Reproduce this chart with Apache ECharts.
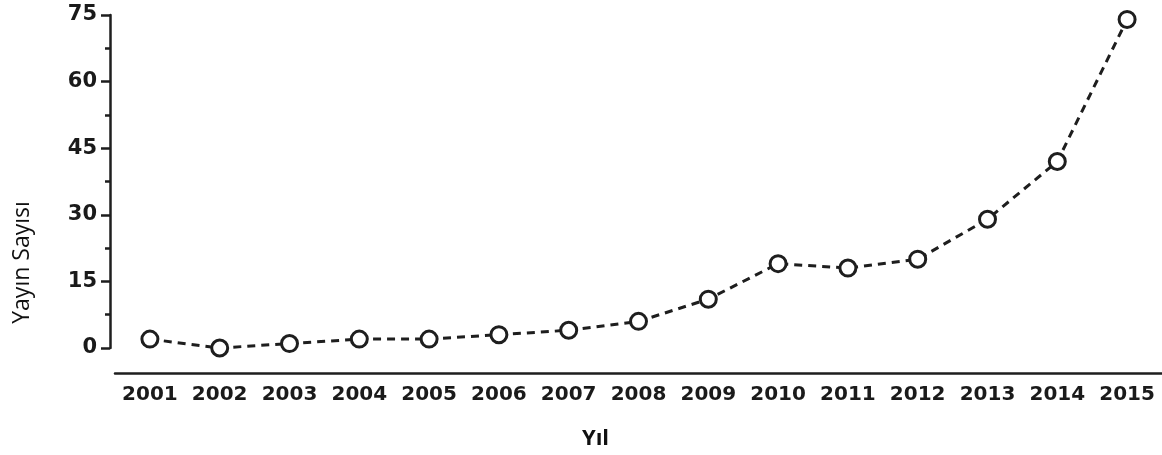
<!DOCTYPE html>
<html>
<head>
<meta charset="utf-8">
<script src="https://cdn.jsdelivr.net/npm/echarts@6/dist/echarts.min.js"></script>
<style>html,body{margin:0;padding:0;background:#fff}#c{width:1162px;height:455px}</style>
</head>
<body>
<div id="c"></div>
<script>
const years = ['2001','2002','2003','2004','2005','2006','2007','2008','2009','2010','2011','2012','2013','2014','2015'];
const publications = [2, 0, 1, 2, 2, 3, 4, 6, 11, 19, 18, 20, 29, 42, 74];
const yTicks = { min: 0, max: 75, interval: 15 };
const xTitle = 'Yıl';
const yTitle = 'Yayın Sayısı';

const ink = '#1e1e1e';
const chart = echarts.init(document.getElementById('c'), null, { renderer: 'canvas' });
chart.setOption({
  animation: false,
  backgroundColor: '#fff',
  grid: { left: 115, right: 0, top: 15, bottom: 107, containLabel: false },
  xAxis: {
    type: 'category',
    data: years,
    boundaryGap: true,
    offset: 25,
    axisLine: { onZero: false, lineStyle: { color: ink, width: 2.5 } },
    axisTick: { alignWithLabel: true, interval: 0, length: 8, lineStyle: { color: ink, width: 2.5 } },
    axisLabel: { interval: 0, hideOverlap: false, margin: 12, color: '#1a1a1a', fontFamily: 'DejaVu Sans', fontWeight: 'bold', fontSize: 20 },
    name: xTitle,
    nameLocation: 'middle',
    nameGap: 55,
    nameTextStyle: { color: '#111', fontFamily: 'Open Sans', fontWeight: 'bold', fontSize: 22, padding: [0, 86, 0, 0] },
    splitLine: { show: false }
  },
  yAxis: {
    type: 'value',
    min: yTicks.min,
    max: yTicks.max,
    interval: yTicks.interval,
    offset: 5,
    axisLine: { show: true, lineStyle: { color: ink, width: 2.5 } },
    axisTick: { show: true, length: 9, lineStyle: { color: ink, width: 2.5 } },
    minorTick: { show: true, splitNumber: 2, length: 5, lineStyle: { color: ink, width: 2.5 } },
    axisLabel: { margin: 13, color: '#1a1a1a', fontFamily: 'DejaVu Sans', fontWeight: 'bold', fontSize: 21 },
    splitLine: { show: false },
    name: yTitle,
    nameLocation: 'middle',
    nameGap: 76,
    nameRotate: 90,
    nameTextStyle: { color: '#111', fontFamily: 'Open Sans', fontSize: 23, padding: [0, 162, 0, 0] }
  },
  series: [{
    type: 'line',
    data: publications,
    symbol: 'circle',
    symbolSize: 16,
    showAllSymbol: true,
    lineStyle: { color: ink, width: 3, type: [8, 6] },
    itemStyle: { color: '#fff', borderColor: ink, borderWidth: 3 },
    z: 3
  }]
});
</script>
</body>
</html>
